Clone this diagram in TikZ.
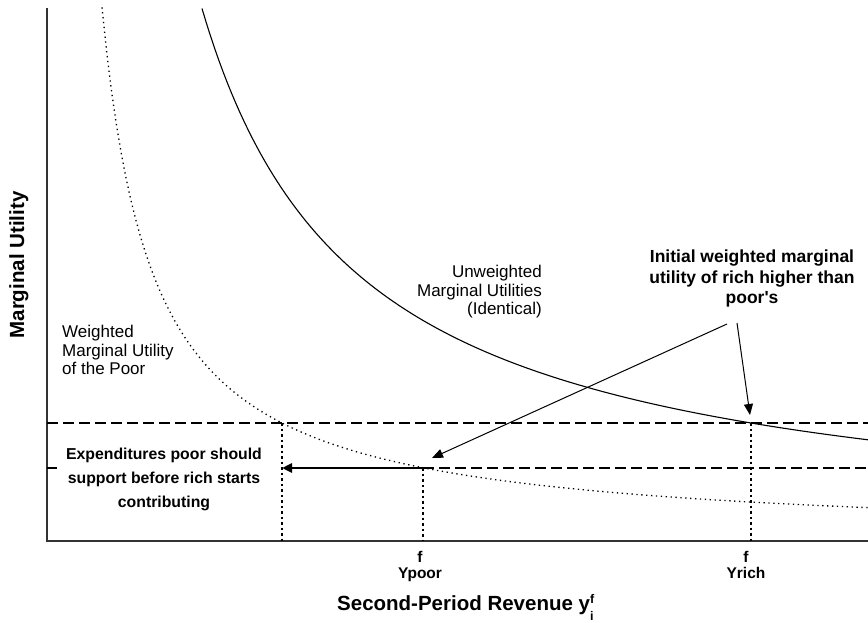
\documentclass[tikz,border=0pt]{standalone}
\usepackage{fontspec}
\setmainfont{Liberation Sans}
\usetikzlibrary{arrows.meta}

\begin{document}
\begin{tikzpicture}[x=1pt,y=-1pt,
  axis/.style={line width=1.5pt, draw=black!80},
  guide/.style={line width=2pt, dash pattern=on 11pt off 5pt},
  drop/.style={line width=2pt, dash pattern=on 2.5pt off 3pt},
  mucurve/.style={line width=1.1pt},
  wcurve/.style={line width=1.3pt, dash pattern=on 1.3pt off 3.6pt},
  callout/.style={line width=1pt, -{Triangle[length=11pt,width=9pt]}},
  lbl/.style={inner sep=0pt, font=\fontsize{17}{18.5}\selectfont},
  blbl/.style={inner sep=0pt, font=\fontsize{17.5}{20.5}\selectfont\bfseries},
  ticklbl/.style={inner sep=0pt, align=center, font=\fontsize{15.5}{16}\selectfont\bfseries},
  axlbl/.style={inner sep=0pt, font=\fontsize{20.5}{24}\selectfont\bfseries}
]
\useasboundingbox (0,0) rectangle (868,623);

% axes
\coordinate (O) at (47,541);
\coordinate (ytop) at (47,8);
\coordinate (xend) at (868,541);
\draw[axis] (ytop) -- (O) -- (xend);

% reference levels and intersection points
\coordinate (hiL) at (47,423);
\coordinate (hiR) at (868,423);
\coordinate (pCross) at (282,423);
\coordinate (pRich) at (751,423);
\coordinate (pPoor) at (423,468);
\coordinate (loR) at (868,468);
\coordinate (tk) at (57,468);

\draw[guide] (hiL) -- (hiR);
\draw[guide] (pPoor) -- (loR);
\draw[line width=2pt] (O |- pPoor) -- (tk);

% drop lines to the revenue axis
\draw[drop] (pCross) -- (pCross |- O);
\draw[drop] (pPoor) -- (pPoor |- O);
\draw[drop] (pRich) -- (pRich |- O);

% marginal utility curves
\draw[mucurve] plot[domain=202:868, samples=160] (\x, {541 - 832.25/((\x-45.7)/100)});
\draw[wcurve] plot[domain=102:868, samples=160] (\x, {541 - 272.7/((\x-50.9)/100)});

% expenditure shift arrow
\draw[line width=2.5pt, -{Triangle[length=10pt,width=9pt]}] (pPoor) -- (pCross |- pPoor);

% labels
\node[lbl, anchor=north west, align=left] (wlab) at (62,325)
  {Weighted\\Marginal Utility\\of the Poor};
\node[lbl, anchor=north east, align=right] (ulab) at (542,265)
  {Unweighted\\Marginal Utilities\\(Identical)};
\node[blbl, anchor=north, align=center] (ilab) at (752,250)
  {Initial weighted marginal\\utility of rich higher than\\poor\textquotesingle s};
\node[inner sep=0pt, anchor=north, align=center,
      font=\fontsize{15.8}{24}\selectfont\bfseries] (elab) at (164,447.5)
  {Expenditures poor should\\support before rich starts\\contributing};

% callout arrows
\coordinate (a1) at (727,324);
\coordinate (a2) at (737,323);
\coordinate (tipPoor) at (432,458);
\coordinate (tipRich) at (750,415);
\draw[callout] (a1) -- (tipPoor);
\draw[callout] (a2) -- (tipRich);

% tick labels
\node[ticklbl, anchor=north] (lpoor) at (420,551) {f\\Ypoor};
\node[ticklbl, anchor=north] (lrich) at (746,551) {f\\Yrich};

% axis titles
\node[axlbl, rotate=90, anchor=base] (ylab) at (24,265) {Marginal Utility};
\node[axlbl, anchor=base west] (xlab) at (337,610.5)
  {Second-Period Revenue y\rlap{\raisebox{7.5pt}{\fontsize{12.5}{12.5}\selectfont f}}\raisebox{-10pt}{\fontsize{12.5}{12.5}\selectfont i}};
\end{tikzpicture}
\end{document}
